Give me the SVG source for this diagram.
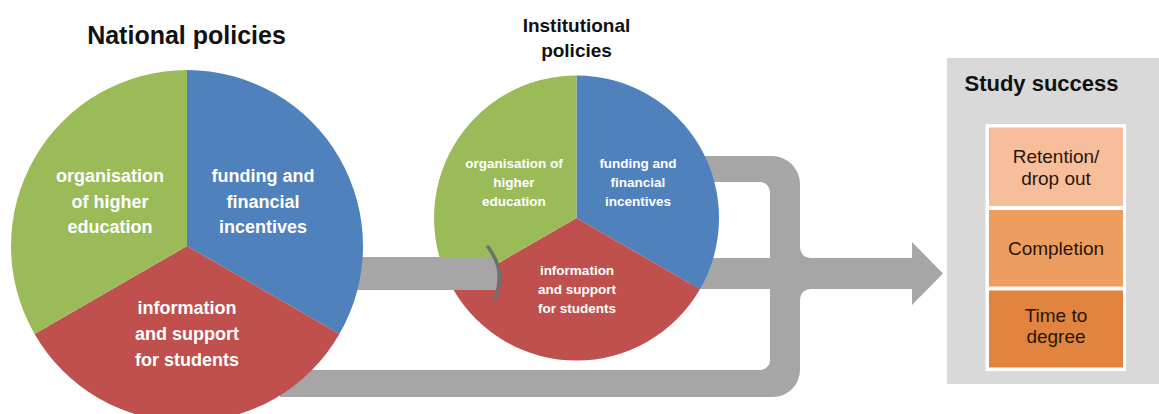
<svg xmlns="http://www.w3.org/2000/svg" width="1159" height="414" viewBox="0 0 1159 414">
<style>
text{font-family:"Liberation Sans",Arial,sans-serif;font-weight:bold;text-anchor:middle}
.title{fill:#111}
.w{fill:#fff}
.g{fill:#9BBB59}
.b{fill:#4F81BD}
.r{fill:#C0504D}
.pipe{fill:#A6A6A6}
.bx{font-weight:normal;fill:#2a1608;font-size:19px}
</style>
<rect width="1159" height="414" fill="#fff"/>
<g id="connectors">
<path class="pipe" d="M690 156 H772 A28 28 0 0 1 800 184 V246 Q800 258 812 258 H912 V242 L943 273.5 L912 305 V289 H812 Q800 289 800 301 V370 A27 27 0 0 1 773 397 H280 V370 H760 A10 10 0 0 0 770 360 V289 H690 V258 H770 V192 A10 10 0 0 0 760 182 H690 Z"/>
</g>
<g id="institutional">
<text class="title" x="576.5" y="32" font-size="19">Institutional</text>
<text class="title" x="576.5" y="57" font-size="19">policies</text>
<path class="b" d="M576.5 218 L576.5 75.5 A142.5 142.5 0 0 1 699.91 289.25 Z"/>
<path class="r" d="M576.5 218 L699.91 289.25 A142.5 142.5 0 0 1 453.09 289.25 Z"/>
<path class="g" d="M576.5 218 L453.09 289.25 A142.5 142.5 0 0 1 576.5 75.5 Z"/>
<g class="w" font-size="13.5">
<text x="514" y="168">organisation of</text>
<text x="514" y="187">higher</text>
<text x="514" y="206">education</text>
<text x="638" y="168">funding and</text>
<text x="638" y="187">financial</text>
<text x="638" y="206">incentives</text>
<text x="577" y="275">information</text>
<text x="577" y="294">and support</text>
<text x="577" y="313">for students</text>
</g>
</g>
<g id="link">
<path class="pipe" d="M340 257 H494 Q500 273.5 496 290 H340 Z"/>
<path d="M488 247 Q507 272 495 299" fill="none" stroke="#6F6F6F" stroke-width="3.5" stroke-linecap="round"/>
</g>
<g id="national">
<text class="title" x="186.5" y="44" font-size="25">National policies</text>
<path class="b" d="M187 246 L187 70 A176 176 0 0 1 339.42 334 Z"/>
<path class="r" d="M187 246 L339.42 334 A176 176 0 0 1 34.58 334 Z"/>
<path class="g" d="M187 246 L34.58 334 A176 176 0 0 1 187 70 Z"/>
<g class="w" font-size="18">
<text x="110" y="182">organisation</text>
<text x="110" y="207.5">of higher</text>
<text x="110" y="233">education</text>
<text x="263" y="182">funding and</text>
<text x="263" y="207.5">financial</text>
<text x="263" y="233">incentives</text>
<text x="187" y="314">information</text>
<text x="187" y="340">and support</text>
<text x="187" y="366">for students</text>
</g>
</g>
<g id="study-success">
<rect x="947" y="58" width="212" height="326" fill="#D9D9D9"/>
<text class="title" x="1041.5" y="91" font-size="22">Study success</text>
<rect x="985.5" y="124" width="140.5" height="247" fill="#fff"/>
</g>
<g id="retention">
<rect x="989" y="127.5" width="134" height="78.5" fill="#F7BE9C"/>
<text class="bx" x="1056" y="163">Retention/</text>
<text class="bx" x="1056" y="184.5">drop out</text>
</g>
<g id="completion">
<rect x="989" y="210" width="134" height="76.5" fill="#EE9D60"/>
<text class="bx" x="1056" y="254.5">Completion</text>
</g>
<g id="time-to-degree">
<rect x="989" y="290.5" width="134" height="77" fill="#E0843F"/>
<text class="bx" x="1056" y="321.5">Time to</text>
<text class="bx" x="1056" y="343">degree</text>
</g>
</svg>
